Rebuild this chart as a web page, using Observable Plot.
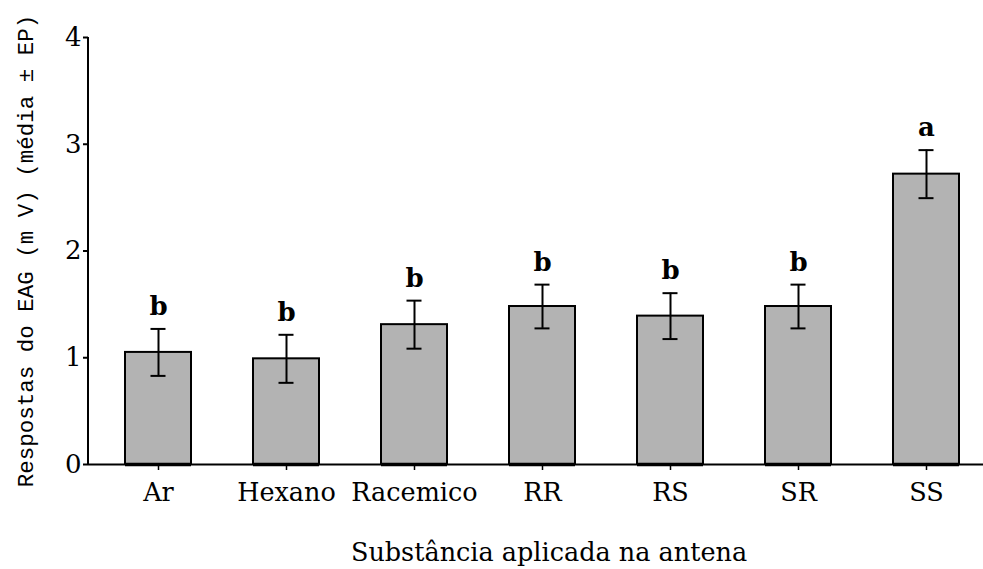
<!DOCTYPE html>
<html>
<head>
<meta charset="utf-8">
<script src="https://cdn.jsdelivr.net/npm/d3@7"></script>
<script src="https://cdn.jsdelivr.net/npm/@observablehq/plot@0.6"></script>
<style>
  html, body { margin: 0; padding: 0; background: #fff; }
  #chart svg { display: block; }
</style>
</head>
<body>
<div id="chart"></div>
<script>
const categories = ["Ar", "Hexano", "Racemico", "RR", "RS", "SR", "SS"];
const means = [1.05, 0.99, 1.31, 1.48, 1.39, 1.48, 2.72];
const errors = [0.22, 0.225, 0.225, 0.205, 0.215, 0.205, 0.225];
const letters = ["b", "b", "b", "b", "b", "b", "a"];
const yTicks = [0, 1, 2, 3, 4];
const xTitle = "Substância aplicada na antena";
const yTitle = "Respostas do EAG (m V) (média ± EP)";

const data = categories.map((c, i) => ({cat: c, mean: means[i], se: errors[i], letter: letters[i]}));

const serif = "DejaVu Serif";
const chart = Plot.plot({
  width: 983,
  height: 569,
  marginLeft: 88,
  marginRight: 0,
  marginTop: 37,
  marginBottom: 105,
  style: {fontFamily: serif, fontSize: "25px", color: "black", background: "white"},
  x: {domain: categories, range: [88, 996], paddingInner: 0.488, paddingOuter: 0.264, align: 0.5},
  y: {domain: [0, 4]},
  marks: [
    Plot.barY(data, {x: "cat", y: "mean", fill: "#b3b3b3", stroke: "black", strokeWidth: 2}),
    Plot.ruleY([0], {stroke: "black", strokeWidth: 2}),
    Plot.tickY(data, {x: "cat", y: 0, stroke: "black", strokeWidth: 3.5}),
    Plot.ruleX(data, {x: "cat", y1: d => d.mean - d.se, y2: d => d.mean + d.se, stroke: "black", strokeWidth: 2}),
    Plot.tickY(data, {x: "cat", y: d => d.mean + d.se, stroke: "black", strokeWidth: 2, insetLeft: 25.5, insetRight: 25.5}),
    Plot.tickY(data, {x: "cat", y: d => d.mean - d.se, stroke: "black", strokeWidth: 2, insetLeft: 25.5, insetRight: 25.5}),
    Plot.text(data, {x: "cat", y: d => d.mean + d.se, text: "letter", dy: -22, fontWeight: "bold", fontSize: 26, fontFamily: serif}),
    Plot.axisY({ticks: yTicks, tickSize: 5, tickPadding: 2, strokeWidth: 2, tickFormat: d3.format("d"), label: null, fontSize: 26, fontFamily: serif}),
    Plot.axisX({tickSize: 6, tickPadding: 12, strokeWidth: 1.5, label: null, fontSize: 25.5, fontFamily: serif}),
    Plot.text([xTitle], {frameAnchor: "bottom", lineAnchor: "middle", dx: 13, dy: 88, fontSize: 25.5, fontFamily: serif}),
    Plot.text([yTitle], {frameAnchor: "left", lineAnchor: "middle", textAnchor: "middle", dx: -63, dy: 0, rotate: -90, fontSize: 22.5, fontFamily: "Liberation Mono"})
  ]
});
document.getElementById("chart").appendChild(chart);
// left axis line along the frame
d3.select(chart).append("line")
  .attr("x1", 88).attr("x2", 88).attr("y1", 37).attr("y2", 465)
  .attr("stroke", "black").attr("stroke-width", 2);
</script>
</body>
</html>
